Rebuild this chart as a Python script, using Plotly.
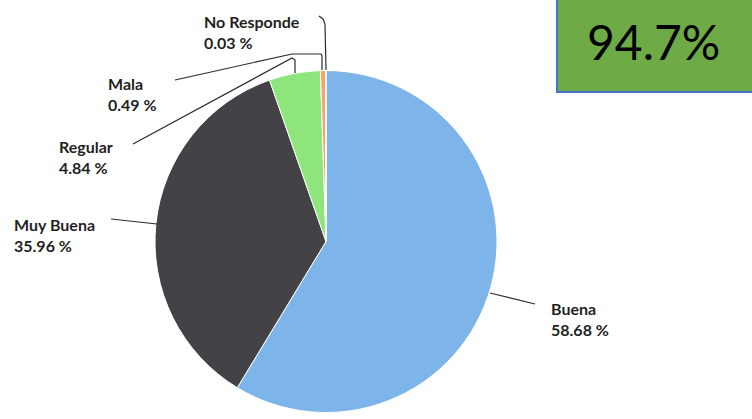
import plotly.graph_objects as go

# Survey answers and their shares (%)
categories = ["Buena", "Muy Buena", "Regular", "Mala", "No Responde"]
shares = [58.68, 35.96, 4.84, 0.49, 0.03]
slice_colors = ["#7DB4EA", "#434247", "#8EE57B", "#F4A56C", "#E9E4D8"]
headline = "94.7%"

W, H = 752, 419


def px(x, y):
    """Pixel position -> paper coordinates."""
    return x / W, 1 - y / H


# Pie placement (pixels)
cx, cy, r = 326, 241.5, 171

fig = go.Figure()
fig.add_trace(go.Pie(
    labels=categories,
    values=shares,
    sort=False,
    direction="clockwise",
    rotation=0,
    marker=dict(colors=slice_colors, line=dict(color="white", width=1)),
    textinfo="none",
    hoverinfo="label+percent",
    showlegend=False,
    domain=dict(x=[(cx - r) / W, (cx + r) / W],
                y=[1 - (cy + r) / H, 1 - (cy - r) / H]),
))

# Label blocks: name and share, positioned in pixels (left, top)
label_pos = {
    "Buena": (549, 297),
    "Muy Buena": (12, 213),
    "Regular": (57, 135),
    "Mala": (106, 72),
    "No Responde": (202, 10),
}

annotations = []
for name, val in zip(categories, shares):
    lx, ly = label_pos[name]
    ax_, ay_ = px(lx, ly)
    annotations.append(dict(
        x=ax_, y=ay_, xref="paper", yref="paper",
        xanchor="left", yanchor="top", align="left",
        text=f"{name}<br>{val:.2f} %", showarrow=False,
        font=dict(family="Lato", size=16, color="#1f1f1f", weight="bold"),
    ))

# Leader lines from labels to their slices (pixel paths)
leaders = [
    [(490, 293), (535, 304)],
    [(111, 219), (157, 224)],
    [(133, 144), (292, 58), (295, 60), (295, 73)],
    [(175, 80), (292, 54), (321, 54), (322, 56), (322, 70)],
    [(319, 16), (323, 19), (325, 24), (326, 70)],
]


def path_of(points):
    parts = []
    for i, (x, y) in enumerate(points):
        X, Y = px(x, y)
        parts.append(("M" if i == 0 else "L") + f"{X:.5f},{Y:.5f}")
    return " ".join(parts)


shapes = [dict(type="path", xref="paper", yref="paper", path=path_of(p),
               line=dict(color="#2b2b2b", width=1.2)) for p in leaders]

# Highlight box in the top-right corner
bx0, by0 = px(557, 92)
bx1, by1 = px(770, -10)
shapes.append(dict(type="rect", xref="paper", yref="paper",
                   x0=bx0, y0=by0, x1=bx1, y1=by1,
                   fillcolor="#6EAB46", line=dict(color="#4472C4", width=2),
                   layer="below"))

hx, hy = px(653, 41)
annotations.append(dict(
    x=hx, y=hy, xref="paper", yref="paper", xanchor="center", yanchor="middle",
    text=headline, showarrow=False,
    font=dict(family="Lato", size=48, color="#000000"),
))

fig.update_layout(
    width=W, height=H,
    margin=dict(l=0, r=0, t=0, b=0),
    paper_bgcolor="white", plot_bgcolor="white",
    annotations=annotations, shapes=shapes,
)

fig.write_html("out.html")
